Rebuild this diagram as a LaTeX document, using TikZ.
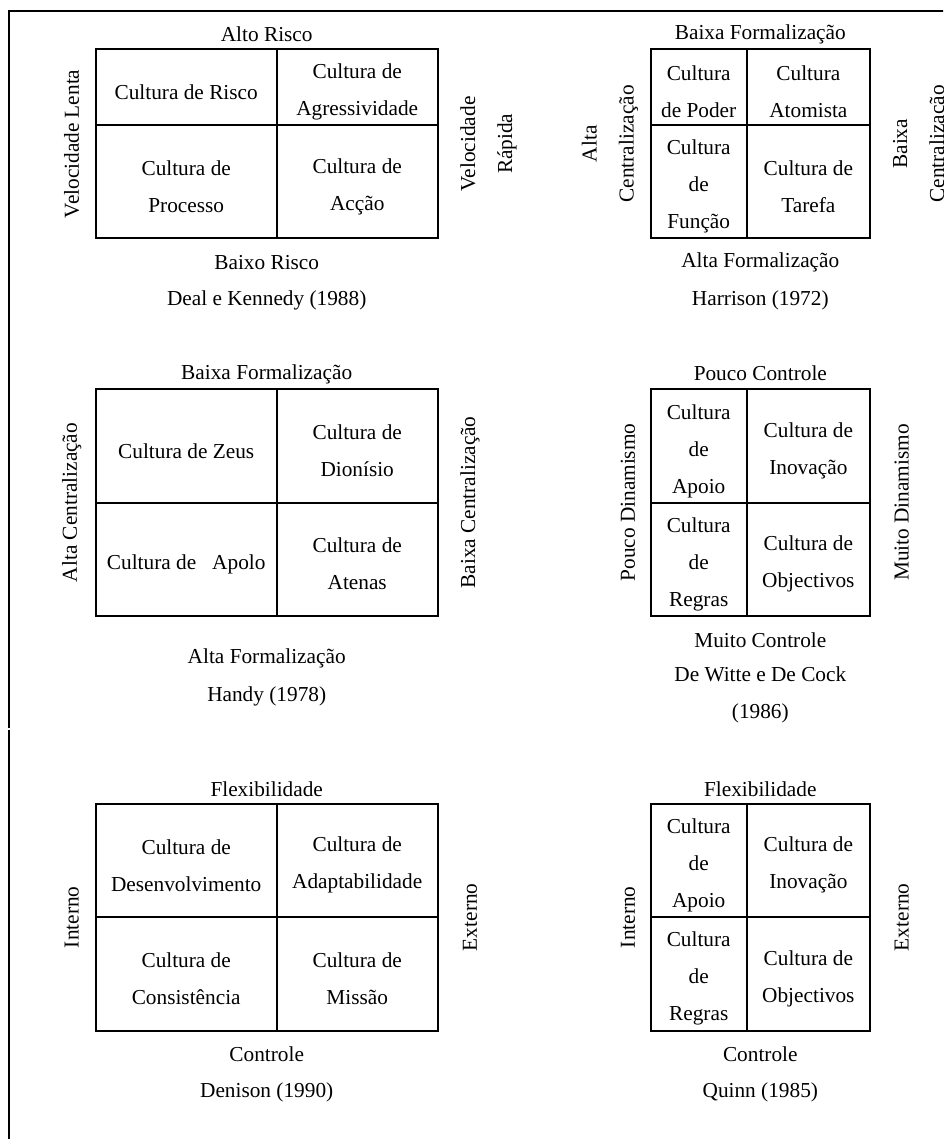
\documentclass[tikz,border=0pt]{standalone}
\usepackage{fontspec}
\setmainfont{Liberation Serif}
\usepackage{tikz}
\usetikzlibrary{calc}
\tikzset{
  grid/.style={line width=1pt},
  frame/.style={line width=1pt},
  lbl/.style={inner sep=0pt,align=center,font=\fontsize{10.65}{18.5}\selectfont},
  vlbl/.style={lbl,rotate=90},
  cell/.style={lbl,yshift=-2.5pt}
}

\begin{document}
\begin{tikzpicture}[x=0.5pt,y=-0.5pt]
% One unit is one pixel of the page
\clip (0,0) rectangle (943,1139);

% Outer frame
\draw[frame] (9,727.5) -- (9,11) -- (950,11);
\draw[frame] (9,729.5) -- (9,1145);

% Corners of the six grids
\coordinate (A0) at (95.7,49.3);  \coordinate (Am) at (276.7,125);   \coordinate (A1) at (437.7,238.3);
\coordinate (B0) at (650.7,49.3); \coordinate (Bm) at (746.7,125);   \coordinate (B1) at (870,238.3);
\coordinate (C0) at (95.7,389.3); \coordinate (Cm) at (276.7,502.7); \coordinate (C1) at (437.7,615.7);
\coordinate (D0) at (650.7,389.3);\coordinate (Dm) at (746.7,502.7); \coordinate (D1) at (870,615.7);
\coordinate (E0) at (95.7,804);   \coordinate (Em) at (276.7,916.7); \coordinate (E1) at (437.7,1030.7);
\coordinate (F0) at (650.7,804);  \coordinate (Fm) at (746.7,916.7); \coordinate (F1) at (870,1030.7);

% Draw grids
\draw[grid] (A0) rectangle (A1) (A0 -| Am) -- (A1 -| Am) (A0 |- Am) -- (A1 |- Am);
\draw[grid] (B0) rectangle (B1) (B0 -| Bm) -- (B1 -| Bm) (B0 |- Bm) -- (B1 |- Bm);
\draw[grid] (C0) rectangle (C1) (C0 -| Cm) -- (C1 -| Cm) (C0 |- Cm) -- (C1 |- Cm);
\draw[grid] (D0) rectangle (D1) (D0 -| Dm) -- (D1 -| Dm) (D0 |- Dm) -- (D1 |- Dm);
\draw[grid] (E0) rectangle (E1) (E0 -| Em) -- (E1 -| Em) (E0 |- Em) -- (E1 |- Em);
\draw[grid] (F0) rectangle (F1) (F0 -| Fm) -- (F1 -| Fm) (F0 |- Fm) -- (F1 |- Fm);

% Deal e Kennedy
\node[cell] (risco) at ($(A0)!.5!(Am)$) {Cultura de Risco};
\node[cell] (agress) at ($(A0 -| A1)!.5!(Am)$) {Cultura de\\Agressividade};
\node[cell] (processo) at ($(A0 |- A1)!.5!(Am)$) {Cultura de\\Processo};
\node[cell] (accao) at ($(A1)!.5!(Am)$) {Cultura de\\Acção};
\node[lbl] (altorisco) at (266.7,34.5) {Alto Risco};
\node[lbl] (baixorisco) at (266.7,262.7) {Baixo Risco};
\node[lbl] (deal) at (266.7,300) {Deal e Kennedy (1988)};
\node[vlbl] (lenta) at (71.7,143.8) {Velocidade Lenta};
\node[vlbl] (rapida) at (488.5,143.8) {Velocidade\\Rápida};

% Harrison
\node[cell] (poder) at ($(B0)!.5!(Bm)$) {Cultura\\de Poder};
\node[cell] (atomista) at ($(B0 -| B1)!.5!(Bm)$) {Cultura\\Atomista};
\node[cell] (funcao) at ($(B0 |- B1)!.5!(Bm)$) {Cultura\\de\\Função};
\node[cell] (tarefa) at ($(B1)!.5!(Bm)$) {Cultura de\\Tarefa};
\node[lbl] (bformB) at (760.3,34.5) {Baixa Formalização};
\node[lbl] (aformB) at (760.3,262.7) {Alta Formalização};
\node[lbl] (harrison) at (760.3,300) {Harrison (1972)};
\node[vlbl] (acentB) at (610,143.8) {Alta\\Centralização};
\node[vlbl] (bcentB) at (920.7,143.8) {Baixa\\Centralização};

% Handy
\node[cell] (zeus) at ($(C0)!.5!(Cm)$) {Cultura de Zeus};
\node[cell] (dionisio) at ($(C0 -| C1)!.5!(Cm)$) {Cultura de\\Dionísio};
\node[cell] (apolo) at ($(C0 |- C1)!.5!(Cm)$) {Cultura de\ \ \ Apolo};
\node[cell] (atenas) at ($(C1)!.5!(Cm)$) {Cultura de\\Atenas};
\node[lbl] (bformC) at (266.7,374.3) {Baixa Formalização};
\node[lbl] (aformC) at (266.7,658.3) {Alta Formalização};
\node[lbl] (handy) at (266.7,696) {Handy (1978)};
\node[vlbl] (acentC) at (71.7,502.5) {Alta Centralização};
\node[vlbl] (bcentC) at (470,502.5) {Baixa Centralização};

% De Witte e De Cock
\node[cell] (apoioD) at ($(D0)!.5!(Dm)$) {Cultura\\de\\Apoio};
\node[cell] (inovD) at ($(D0 -| D1)!.5!(Dm)$) {Cultura de\\Inovação};
\node[cell] (regrasD) at ($(D0 |- D1)!.5!(Dm)$) {Cultura\\de\\Regras};
\node[cell] (objD) at ($(D1)!.5!(Dm)$) {Cultura de\\Objectivos};
\node[lbl] (pcontrole) at (760.3,373.5) {Pouco Controle};
\node[lbl] (mcontrole) at (760.3,640) {Muito Controle};
\node[lbl] (dewitte) at (760.3,695) {De Witte e De Cock\\(1986)};
\node[vlbl] (pdin) at (628,502.5) {Pouco Dinamismo};
\node[vlbl] (mdin) at (901.7,502.5) {Muito Dinamismo};

% Denison
\node[cell] (desenv) at ($(E0)!.5!(Em)$) {Cultura de\\Desenvolvimento};
\node[cell] (adapt) at ($(E0 -| E1)!.5!(Em)$) {Cultura de\\Adaptabilidade};
\node[cell] (consist) at ($(E0 |- E1)!.5!(Em)$) {Cultura de\\Consistência};
\node[cell] (missao) at ($(E1)!.5!(Em)$) {Cultura de\\Missão};
\node[lbl] (flexE) at (266.7,789) {Flexibilidade};
\node[lbl] (controleE) at (266.7,1054.3) {Controle};
\node[lbl] (denison) at (266.7,1092.7) {Denison (1990)};
\node[vlbl] (internoE) at (71.7,917.3) {Interno};
\node[vlbl] (externoE) at (470,917.3) {Externo};

% Quinn
\node[cell] (apoioF) at ($(F0)!.5!(Fm)$) {Cultura\\de\\Apoio};
\node[cell] (inovF) at ($(F0 -| F1)!.5!(Fm)$) {Cultura de\\Inovação};
\node[cell] (regrasF) at ($(F0 |- F1)!.5!(Fm)$) {Cultura\\de\\Regras};
\node[cell] (objF) at ($(F1)!.5!(Fm)$) {Cultura de\\Objectivos};
\node[lbl] (flexF) at (760.3,789) {Flexibilidade};
\node[lbl] (controleF) at (760.3,1054.3) {Controle};
\node[lbl] (quinn) at (760.3,1092.7) {Quinn (1985)};
\node[vlbl] (internoF) at (628,917.3) {Interno};
\node[vlbl] (externoF) at (901.7,917.3) {Externo};
\end{tikzpicture}
\end{document}
